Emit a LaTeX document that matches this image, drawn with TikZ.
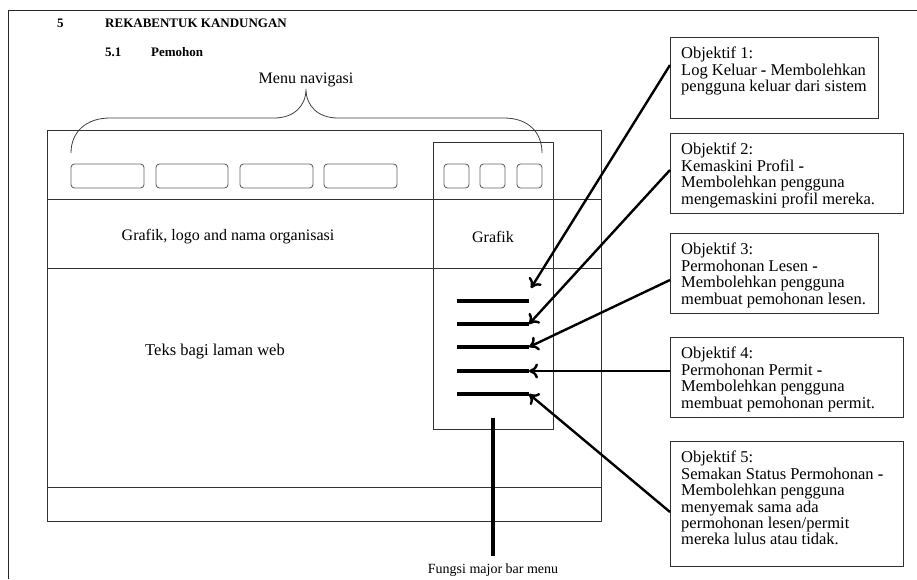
\documentclass[tikz,border=0pt]{standalone}
\usepackage{fontspec}
\setmainfont{Liberation Serif}
\usetikzlibrary{arrows.meta}
\begin{document}
\begin{tikzpicture}[x=1pt,y=-1pt,
  thinline/.style={line width=0.9pt,draw=black!80},
  btn/.style={draw=black!60,line width=0.9pt,rounded corners=3.5pt},
  obj/.style={draw=black!80,line width=0.9pt,inner sep=0pt,outer sep=0pt},
  objtxt/.style={anchor=north west,inner sep=0pt,align=left,font=\fontsize{16.5}{16.4}\selectfont},
  lbl/.style={inner sep=0pt,font=\fontsize{16}{18}\selectfont},
  head/.style={inner sep=0pt,anchor=west,font=\bfseries\fontsize{13}{15}\selectfont},
  menubar/.style={line width=4.5pt},
  arr/.style={line width=2.4pt,-{To[length=9pt,width=15pt]}}
]
\useasboundingbox (0,0) rectangle (917,579);
% page frame
\draw[line width=1pt,draw=black!85] (8,579) -- (8,10) -- (917,10);
% heading
\node[head] (h5) at (57,23) {5};
\node[head] (hk) at (105,23) {REKABENTUK KANDUNGAN};
\node[head] (h51) at (105,52) {5.1};
\node[head] (hp) at (151,52) {Pemohon};
% brace and label
\node[lbl] (menu) at (306,80) {Menu navigasi};
\draw[line width=0.8pt,draw=black!75] (71,153) .. controls (71,132) and (86,118) .. (110,118) -- (274,118)
  .. controls (294,118) and (306,106) .. (306,89)
  .. controls (306,106) and (318,118) .. (338,118) -- (504,118)
  .. controls (528,118) and (542,132) .. (542,153);
% main window
\draw[thinline] (47,130) rectangle (601,521);
\draw[thinline] (47,199) -- (601,199);
\draw[thinline] (47,268) -- (601,268);
\draw[thinline] (47,487) -- (601,487);
\draw[thinline] (433,142) rectangle (553,429);
% buttons
\draw[btn] (71,164) rectangle (144,188);
\draw[btn] (156,164) rectangle (228,188);
\draw[btn] (240,164) rectangle (313,188);
\draw[btn] (324,164) rectangle (397,188);
\draw[btn] (444,164) rectangle (469,188);
\draw[btn] (480,164) rectangle (505,188);
\draw[btn] (517,164) rectangle (542,188);
% labels
\node[lbl] (glo) at (228,237) {Grafik, logo and nama organisasi};
\node[lbl] (gr) at (493,237) {Grafik};
\node[lbl,font=\fontsize{16.5}{18}\selectfont] (teks) at (215,352) {Teks bagi laman web};
\node[lbl,font=\fontsize{14}{16}\selectfont] (fungsi) at (493,570) {Fungsi major bar menu};
% menu bars
\coordinate (b1) at (529,301); \draw[menubar] (457,301) -- (b1);
\coordinate (b2) at (529,324); \draw[menubar] (457,324) -- (b2);
\coordinate (b3) at (529,347); \draw[menubar] (457,347) -- (b3);
\coordinate (b4) at (529,371); \draw[menubar] (457,371) -- (b4);
\coordinate (b5) at (529,394); \draw[menubar] (457,394) -- (b5);
\coordinate (vtop) at (493,418);
\draw[line width=4pt] (vtop) -- (fungsi.north |- 0,556);
% objective boxes
\node[obj,anchor=north west,minimum width=208pt,minimum height=81pt] (o1) at (670,37) {};
\node[obj,anchor=north west,minimum width=233pt,minimum height=80pt] (o2) at (670,133) {};
\node[obj,anchor=north west,minimum width=208pt,minimum height=80pt] (o3) at (670,233) {};
\node[obj,anchor=north west,minimum width=233pt,minimum height=80pt] (o4) at (670,337) {};
\node[obj,anchor=north west,minimum width=233pt,minimum height=125pt] (o5) at (670,441) {};
\node[objtxt] (t1) at (681,47) {Objektif 1:\\Log Keluar \textbf{-} Membolehkan\\pengguna keluar dari sistem};
\node[objtxt] (t2) at (681,143) {Objektif 2:\\Kemaskini Profil \textbf{-}\\Membolehkan pengguna\\mengemaskini profil mereka.};
\node[objtxt] (t3) at (681,243) {Objektif 3:\\Permohonan Lesen \textbf{-}\\Membolehkan pengguna\\membuat pemohonan lesen.};
\node[objtxt] (t4) at (681,347) {Objektif 4:\\Permohonan Permit \textbf{-}\\Membolehkan pengguna\\membuat pemohonan permit.};
\node[objtxt] (t5) at (681,451) {Objektif 5:\\Semakan Status Permohonan \textbf{-}\\Membolehkan pengguna\\menyemak sama ada\\permohonan lesen/permit\\mereka lulus atau tidak.};
% arrows
\coordinate (s1) at (o1.west |- 0,65);
\coordinate (s2) at (o2.west |- 0,170);
\coordinate (s3) at (o3.west |- 0,280);
\coordinate (s4) at (o4.west |- 0,371);
\coordinate (s5) at (o5.west |- 0,512);
\coordinate (e1) at (531,288);
\draw[arr] (s1) -- (e1);
\draw[arr] (s2) -- (b2);
\draw[arr] (s3) -- (b3);
\draw[arr] (s4) -- (b4);
\draw[arr] (s5) -- (b5);
\end{tikzpicture}
\end{document}
